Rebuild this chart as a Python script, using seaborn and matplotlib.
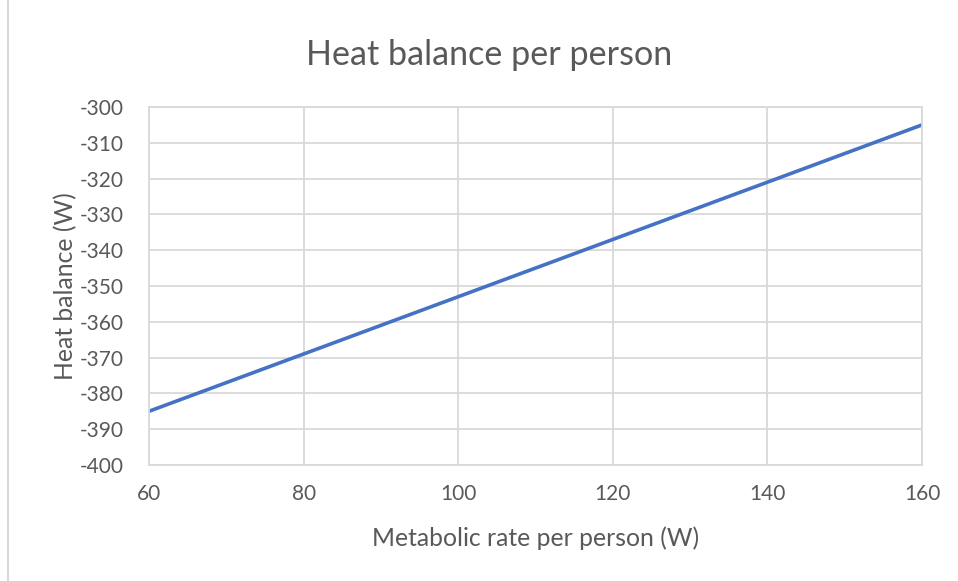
import numpy as np
import pandas as pd
import matplotlib
matplotlib.use("Agg")
import matplotlib.pyplot as plt
import seaborn as sns

# data
metabolic_rate = [60, 70, 80, 90, 100, 110, 120, 130, 140, 150, 160]
heat_balance = [-385, -377, -369, -361, -353, -345, -337, -329, -321, -313, -305]
x_ticks = [60, 80, 100, 120, 140, 160]
y_ticks = [-400, -390, -380, -370, -360, -350, -340, -330, -320, -310, -300]

df = pd.DataFrame({"rate": metabolic_rate, "balance": heat_balance})

sns.set_style("white")
plt.rcParams["font.family"] = ["Lato", "DejaVu Sans"]
plt.rcParams["axes.unicode_minus"] = False

fig = plt.figure(figsize=(9.58, 5.81), dpi=100)
ax = fig.add_axes([0.1555, 0.1997, 0.8069, 0.6161])

sns.lineplot(data=df, x="rate", y="balance", ax=ax, color="#4472C4", linewidth=2.6)

ax.set_xlim(60, 160)
ax.set_ylim(-400, -300)
ax.set_xticks(x_ticks)
ax.set_yticks(y_ticks)
ax.grid(True, color="#D9D9D9", linewidth=1.3)
for s in ax.spines.values():
    s.set_color("#D9D9D9")
    s.set_linewidth(1.3)
ax.tick_params(axis="both", length=0, labelsize=15, labelcolor="#595959")
ax.tick_params(axis="y", pad=18)
ax.tick_params(axis="x", pad=14)

ax.set_xlabel("Metabolic rate per person (W)", fontsize=17.8, color="#595959", labelpad=16)
ax.set_ylabel("Heat balance (W)", fontsize=17.8, color="#595959", labelpad=2)
fig.text(0.511, 0.905, "Heat balance per person", ha="center", va="center", fontsize=24.6, color="#595959")

# chart border on the left
fig.add_artist(plt.Line2D([0.0085, 0.0085], [0.0, 1.0], color="#D9D9D9", linewidth=1.5, transform=fig.transFigure))

fig.savefig("out.png", dpi=100)
